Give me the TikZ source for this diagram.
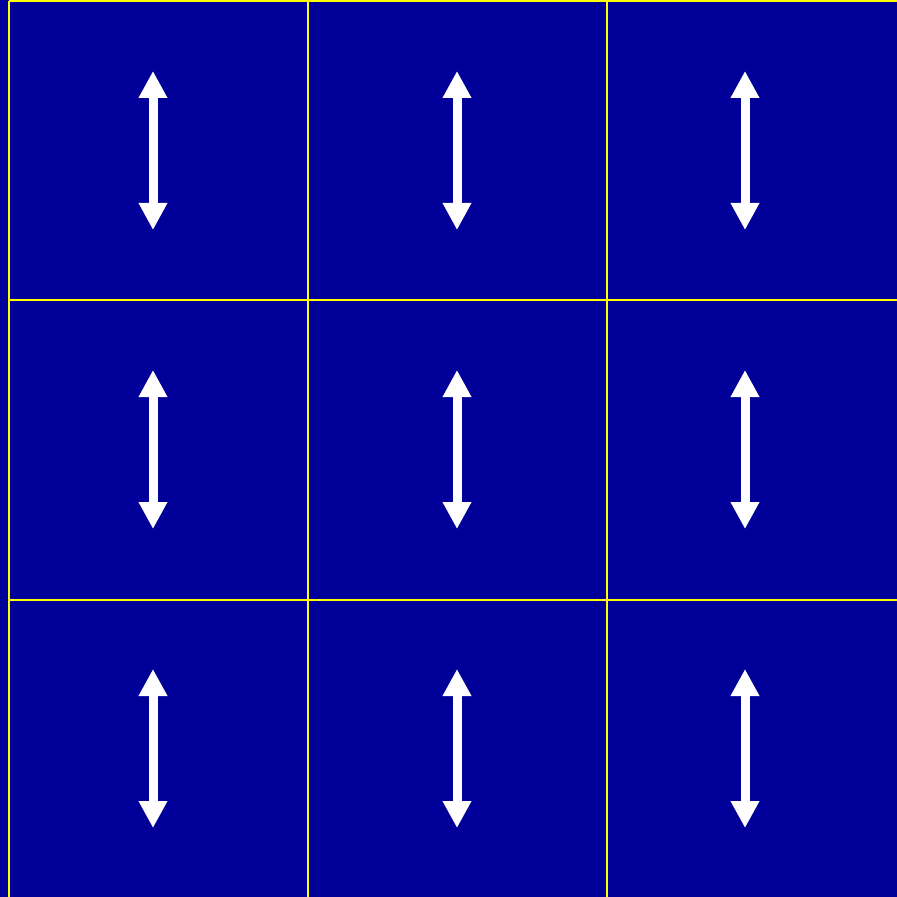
\documentclass[tikz,border=0pt]{standalone}
\usetikzlibrary{arrows.meta}
\definecolor{cellblue}{RGB}{0,0,153}
\definecolor{gridyellow}{RGB}{255,255,0}
\begin{document}
\begin{tikzpicture}[x=0.5pt,y=-0.5pt,
    gridline/.style={draw=gridyellow,line width=1pt},
    spin/.style={draw=white,line width=4.5pt,
      {Triangle[width=13.5pt,length=13.5pt]}-{Triangle[width=13.5pt,length=13.5pt]}}]
    % background, 1 unit = 1 px
    \fill[cellblue] (0,0) rectangle (897,897);
    \useasboundingbox (0,0) rectangle (897,897);
    % cell grid: 299 px cells
    \foreach \i in {0,1,2,3} {
      \draw[gridline] (9+299*\i,1.5) -- (9+299*\i,898.5);
      \draw[gridline] (9,1.5+299*\i) -- (906,1.5+299*\i);
    }
    % one double arrow per cell
    \foreach \c/\x in {1/153,2/457,3/745} {
      \foreach \r/\y in {1/71,2/370,3/669} {
        \coordinate (t\r\c) at (\x,\y);
        \coordinate (b\r\c) at (\x,\y+159);
        \draw[spin] (t\r\c) -- (b\r\c);
      }
    }
  \end{tikzpicture}
\end{document}
